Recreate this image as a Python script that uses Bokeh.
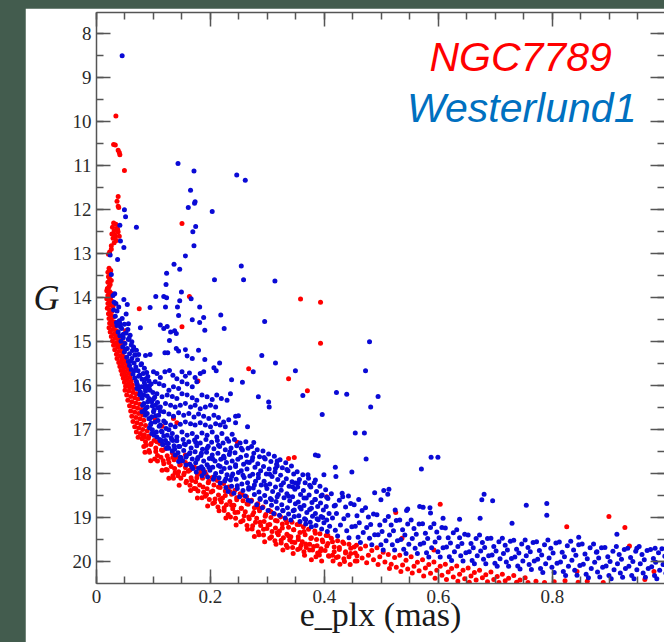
from bokeh.plotting import figure
from bokeh.models import Range1d, FixedTicker, LinearAxis, Label, CustomJSTickFormatter, Spacer
from bokeh.layouts import row, column
from bokeh.embed import file_html
from bokeh.resources import INLINE

# ---------------- data (x = e_plx [mas], G [mag]) ----------------
x_major = [0.0, 0.2, 0.4, 0.6, 0.8, 1.0]
x_minor = [round(0.05 * i, 2) for i in range(0, 21)]
g_major = list(range(8, 21))
g_minor = [7.5 + 0.5 * i for i in range(0, 27)]

# NGC7789 (red)
red_bright = [
    (0.034, 9.87), (0.030, 10.52), (0.033, 10.53), (0.038, 10.65), (0.040, 10.70), (0.041, 10.75),
    (0.049, 11.11), (0.038, 11.70), (0.036, 11.81), (0.038, 11.92), (0.039, 11.95),
    (0.030, 12.30), (0.034, 12.33), (0.028, 12.40), (0.036, 12.42), (0.037, 12.45), (0.031, 12.48),
    (0.038, 12.50), (0.027, 12.55), (0.033, 12.58), (0.040, 12.60), (0.032, 12.62), (0.029, 12.65),
    (0.035, 12.70), (0.031, 12.75), (0.026, 12.82), (0.026, 12.90), (0.023, 12.96), (0.021, 13.01),
]
red_upper = [
    (0.022, 13.33), (0.025, 13.38), (0.020, 13.42), (0.024, 13.47), (0.021, 13.52), (0.023, 13.57),
    (0.026, 13.61), (0.020, 13.65), (0.024, 13.70), (0.022, 13.75), (0.019, 13.79),
    (0.018, 13.84), (0.023, 13.86), (0.027, 13.90), (0.020, 13.94), (0.025, 13.98), (0.018, 14.02),
    (0.022, 14.05), (0.027, 14.08), (0.020, 14.13), (0.024, 14.17), (0.029, 14.20), (0.019, 14.24),
    (0.023, 14.28), (0.027, 14.31), (0.021, 14.36), (0.025, 14.40), (0.030, 14.43), (0.022, 14.47),
    (0.026, 14.51), (0.031, 14.55), (0.023, 14.58),
    (0.027, 14.62), (0.032, 14.65), (0.022, 14.68), (0.029, 14.72), (0.035, 14.75), (0.024, 14.78),
    (0.031, 14.82), (0.037, 14.85), (0.026, 14.88), (0.033, 14.92), (0.039, 14.95), (0.028, 14.98),
    (0.035, 15.02), (0.041, 15.05), (0.030, 15.08), (0.037, 15.12), (0.044, 15.15), (0.032, 15.18),
    (0.039, 15.22), (0.046, 15.25), (0.035, 15.28), (0.042, 15.32),
    (0.048, 15.35), (0.036, 15.38), (0.044, 15.41), (0.051, 15.44), (0.039, 15.47), (0.046, 15.50),
    (0.053, 15.53), (0.041, 15.56), (0.048, 15.59), (0.055, 15.62), (0.043, 15.65), (0.050, 15.68),
    (0.057, 15.71), (0.045, 15.74), (0.052, 15.77), (0.059, 15.80), (0.047, 15.83), (0.054, 15.86),
    (0.061, 15.89), (0.049, 15.92), (0.056, 15.95), (0.063, 15.98), (0.051, 16.01), (0.058, 16.04),
    (0.065, 16.07),
    (0.050, 16.10), (0.057, 16.12), (0.064, 16.15), (0.070, 16.18), (0.053, 16.21), (0.060, 16.24),
    (0.067, 16.27), (0.073, 16.30), (0.055, 16.33), (0.062, 16.36), (0.069, 16.39), (0.076, 16.42),
    (0.058, 16.45), (0.065, 16.48), (0.072, 16.51), (0.079, 16.54), (0.060, 16.57), (0.067, 16.60),
    (0.074, 16.63), (0.081, 16.66), (0.062, 16.69), (0.069, 16.72), (0.076, 16.75), (0.083, 16.78),
    (0.064, 16.81), (0.071, 16.84), (0.078, 16.87), (0.086, 16.90), (0.067, 16.93), (0.074, 16.96),
    (0.081, 16.99), (0.089, 17.02), (0.070, 17.05), (0.077, 17.08), (0.084, 17.11), (0.092, 17.14),
    (0.073, 17.17), (0.080, 17.20),
]
red_lower = [
    (0.081, 17.14), (0.086, 17.27), (0.083, 17.38), (0.091, 17.19), (0.095, 17.33), (0.092, 17.47),
    (0.101, 17.24), (0.104, 17.41), (0.107, 17.58), (0.102, 17.66),
    (0.111, 17.31), (0.116, 17.47), (0.113, 17.62), (0.118, 17.77),
    (0.121, 17.43), (0.124, 17.59), (0.127, 17.74), (0.122, 17.90),
    (0.133, 17.52), (0.136, 17.68), (0.131, 17.83), (0.138, 17.97), (0.134, 18.04),
    (0.142, 17.63), (0.147, 17.79), (0.144, 17.95), (0.148, 18.10),
    (0.151, 17.70), (0.156, 17.86), (0.153, 18.02), (0.158, 18.17),
    (0.163, 17.78), (0.161, 17.94), (0.166, 18.09), (0.164, 18.26),
    (0.172, 17.85), (0.177, 18.01), (0.174, 18.18), (0.171, 18.33), (0.178, 18.39),
    (0.183, 17.93), (0.186, 18.10), (0.181, 18.25), (0.188, 18.42),
    (0.192, 18.01), (0.197, 18.17), (0.194, 18.34), (0.191, 18.51), (0.198, 18.58),
    (0.203, 18.08), (0.206, 18.25), (0.201, 18.41), (0.208, 18.57), (0.204, 18.67),
    (0.212, 18.15), (0.217, 18.31), (0.214, 18.48), (0.219, 18.64), (0.213, 18.75),
    (0.223, 18.22), (0.226, 18.39), (0.221, 18.55), (0.228, 18.70), (0.224, 18.83),
    (0.232, 18.30), (0.237, 18.46), (0.234, 18.63), (0.239, 18.79), (0.231, 18.92),
    (0.243, 18.37), (0.246, 18.54), (0.241, 18.71), (0.248, 18.87), (0.244, 19.01),
    (0.252, 18.45), (0.257, 18.61), (0.254, 18.78), (0.259, 18.95), (0.253, 19.09),
    (0.263, 18.52), (0.266, 18.69), (0.261, 18.86), (0.268, 19.02), (0.264, 19.17),
    (0.272, 18.60), (0.277, 18.77), (0.274, 18.93), (0.279, 19.10), (0.273, 19.25),
    (0.283, 18.68), (0.286, 18.84), (0.281, 19.01), (0.288, 19.17), (0.284, 19.32),
    (0.292, 18.75), (0.297, 18.92), (0.294, 19.08), (0.299, 19.24), (0.293, 19.39),
    (0.303, 18.83), (0.306, 18.99), (0.301, 19.16), (0.308, 19.31), (0.304, 19.46),
    (0.312, 18.91), (0.317, 19.07), (0.314, 19.23), (0.319, 19.38), (0.313, 19.52),
    (0.323, 18.98), (0.326, 19.14), (0.321, 19.30), (0.328, 19.45), (0.324, 19.57),
    (0.332, 19.04), (0.337, 19.21), (0.334, 19.37), (0.339, 19.50), (0.333, 19.62),
    (0.343, 19.10), (0.346, 19.27), (0.341, 19.43), (0.348, 19.56), (0.344, 19.67),
    (0.352, 19.15), (0.357, 19.33), (0.354, 19.49), (0.359, 19.62), (0.353, 19.72),
    (0.363, 19.20), (0.366, 19.38), (0.361, 19.54), (0.368, 19.67), (0.364, 19.77),
    (0.372, 19.26), (0.377, 19.45), (0.374, 19.60), (0.379, 19.73),
    (0.383, 19.30), (0.386, 19.49), (0.381, 19.65), (0.388, 19.80),
    (0.392, 19.36), (0.397, 19.54), (0.394, 19.70), (0.391, 19.84),
    (0.403, 19.40), (0.406, 19.58), (0.401, 19.74), (0.408, 19.87),
    (0.412, 19.46), (0.417, 19.66), (0.414, 19.85), (0.423, 19.52), (0.426, 19.72), (0.421, 19.90),
    (0.432, 19.55), (0.437, 19.77), (0.434, 19.93), (0.443, 19.60), (0.446, 19.81),
    (0.452, 19.66), (0.457, 19.86), (0.454, 19.98), (0.463, 19.70), (0.466, 19.91),
    (0.472, 19.64), (0.477, 19.85), (0.474, 20.02), (0.483, 19.74), (0.486, 19.95),
    (0.492, 19.68), (0.497, 19.88), (0.494, 20.06), (0.503, 19.78), (0.506, 20.00),
    (0.512, 19.83), (0.517, 20.05), (0.514, 20.15), (0.523, 19.90), (0.526, 20.12),
    (0.532, 19.85), (0.537, 20.07), (0.534, 20.22), (0.543, 19.96), (0.546, 20.16),
    (0.552, 19.88), (0.557, 20.10), (0.554, 20.25), (0.563, 20.01), (0.566, 20.20),
    (0.572, 19.95), (0.577, 20.14), (0.574, 20.32), (0.583, 20.06), (0.586, 20.26),
    (0.592, 20.00), (0.597, 20.19), (0.594, 20.37), (0.603, 20.10), (0.606, 20.30),
    (0.612, 20.05), (0.617, 20.23), (0.614, 20.40), (0.623, 20.15), (0.626, 20.34),
    (0.632, 20.09), (0.637, 20.28), (0.634, 20.44), (0.643, 20.19), (0.646, 20.38),
    (0.652, 20.14), (0.657, 20.32), (0.654, 20.46), (0.663, 20.24), (0.666, 20.41),
    (0.672, 20.19), (0.677, 20.36), (0.683, 20.29), (0.686, 20.45), (0.692, 20.23), (0.697, 20.40),
    (0.703, 20.33), (0.706, 20.47), (0.712, 20.28), (0.717, 20.43), (0.723, 20.37),
    (0.732, 20.31), (0.737, 20.46), (0.743, 20.41), (0.752, 20.36), (0.757, 20.47),
    (0.771, 20.44), (0.786, 20.47), (0.803, 20.45), (0.822, 20.43), (0.845, 20.46), (0.861, 20.44),
    (0.889, 20.47), (0.962, 20.40),
]
red_lower_fill = [
    (0.084, 17.17), (0.087, 17.35), (0.085, 17.51), (0.096, 17.31), (0.093, 17.51), (0.095, 17.70),
    (0.106, 17.27), (0.104, 17.49), (0.107, 17.71), (0.114, 17.46), (0.117, 17.70), (0.115, 17.92),
    (0.126, 17.66), (0.124, 17.91), (0.127, 18.10), (0.134, 17.62), (0.137, 17.88), (0.135, 18.10),
    (0.146, 17.80), (0.143, 18.04), (0.145, 18.26), (0.156, 17.74), (0.154, 17.98), (0.157, 18.20),
    (0.164, 17.91), (0.167, 18.15), (0.165, 18.38), (0.176, 18.09), (0.174, 18.34), (0.177, 18.55),
    (0.184, 18.01), (0.187, 18.30), (0.185, 18.54), (0.196, 18.20), (0.193, 18.47), (0.195, 18.73),
    (0.206, 18.11), (0.204, 18.39), (0.207, 18.65), (0.214, 18.30), (0.217, 18.58), (0.215, 18.84),
    (0.226, 18.49), (0.224, 18.77), (0.227, 19.00), (0.234, 18.40), (0.237, 18.71), (0.235, 18.98),
    (0.246, 18.59), (0.243, 18.88), (0.245, 19.16), (0.256, 18.48), (0.254, 18.78), (0.257, 19.06),
    (0.264, 18.68), (0.267, 18.98), (0.265, 19.26), (0.276, 18.88), (0.274, 19.18), (0.277, 19.42),
    (0.284, 18.77), (0.287, 19.10), (0.285, 19.38), (0.296, 18.96), (0.293, 19.26), (0.295, 19.54),
    (0.306, 18.86), (0.304, 19.15), (0.307, 19.43), (0.314, 19.06), (0.317, 19.34), (0.315, 19.60),
    (0.326, 19.23), (0.324, 19.51), (0.327, 19.73), (0.334, 19.11), (0.337, 19.41), (0.335, 19.67),
    (0.346, 19.27), (0.343, 19.55), (0.345, 19.81), (0.356, 19.15), (0.354, 19.43), (0.357, 19.69),
    (0.364, 19.31), (0.367, 19.59), (0.365, 19.85), (0.376, 19.47), (0.374, 19.73), (0.377, 19.95),
    (0.384, 19.35), (0.387, 19.63), (0.385, 19.88), (0.396, 19.50), (0.393, 19.75), (0.395, 19.98),
    (0.406, 19.40), (0.404, 19.64), (0.407, 19.86), (0.414, 19.54), (0.417, 19.77), (0.415, 19.98),
    (0.426, 19.67), (0.424, 19.88), (0.427, 20.05), (0.434, 19.58), (0.437, 19.80), (0.435, 19.99),
    (0.446, 19.69), (0.443, 19.88), (0.445, 20.06), (0.456, 19.62), (0.454, 19.80), (0.457, 19.98),
]
red_outliers = [
    (0.150, 12.31), (0.163, 13.97), (0.358, 14.03), (0.393, 14.10), (0.075, 14.25), (0.051, 14.75),
    (0.150, 14.66), (0.048, 15.02), (0.393, 15.03), (0.267, 15.61), (0.337, 15.84), (0.178, 15.89),
    (0.370, 16.11), (0.103, 16.77), (0.135, 16.74), (0.141, 16.84), (0.115, 16.92),
    (0.247, 17.28), (0.156, 17.57), (0.337, 17.65), (0.347, 17.63), (0.190, 17.95), (0.404, 18.52),
    (0.603, 18.69), (0.525, 18.88), (0.536, 19.46), (0.592, 19.73), (0.825, 19.20), (0.899, 18.97),
    (0.927, 19.22), (0.935, 19.64), (0.843, 20.22), (0.978, 20.22),
]

# Westerlund1 (blue)
blue_bright = [
    (0.045, 8.50), (0.143, 10.95), (0.171, 11.12), (0.246, 11.21), (0.261, 11.33), (0.165, 11.56),
    (0.173, 11.82), (0.172, 11.85), (0.161, 11.95), (0.049, 12.00), (0.203, 12.04), (0.051, 12.16),
    (0.041, 12.35), (0.070, 12.40), (0.174, 12.38), (0.169, 12.50), (0.042, 12.71), (0.048, 12.86),
    (0.171, 12.82), (0.024, 13.03), (0.156, 13.05), (0.037, 13.13), (0.136, 13.24), (0.146, 13.35),
    (0.254, 13.28), (0.123, 13.44), (0.026, 13.47), (0.207, 13.59), (0.258, 13.59), (0.313, 13.62),
    (0.122, 13.70),
]
blue_scatter = [
    (0.032, 13.91), (0.104, 13.97), (0.118, 13.97), (0.123, 14.00), (0.149, 13.87), (0.166, 14.02),
    (0.146, 14.07), (0.048, 14.04), (0.054, 14.15), (0.039, 14.21), (0.034, 14.13), (0.094, 14.22),
    (0.121, 14.21), (0.142, 14.21), (0.144, 14.40), (0.181, 14.21), (0.218, 14.39), (0.188, 14.45),
    (0.181, 14.56), (0.168, 14.50), (0.295, 14.54), (0.052, 14.37), (0.045, 14.47), (0.056, 14.59),
    (0.042, 14.66), (0.059, 14.85), (0.077, 14.68), (0.112, 14.62), (0.118, 14.70), (0.124, 14.65),
    (0.130, 14.78), (0.137, 14.75), (0.140, 14.81), (0.190, 14.74), (0.224, 14.70), (0.128, 14.97),
    (0.070, 15.19), (0.086, 15.31), (0.094, 15.29), (0.120, 15.25), (0.125, 15.25), (0.140, 15.15),
    (0.144, 15.21), (0.156, 15.18), (0.159, 15.32), (0.179, 15.19), (0.190, 15.40), (0.168, 15.38),
    (0.216, 15.48), (0.206, 15.59), (0.210, 15.66), (0.290, 15.31), (0.314, 15.48), (0.479, 15.00),
    (0.472, 15.66), (0.349, 15.66), (0.275, 15.68), (0.256, 15.92), (0.237, 15.86), (0.362, 16.22),
    (0.421, 16.15), (0.439, 16.19), (0.494, 16.24), (0.481, 16.48), (0.284, 16.25), (0.302, 16.37),
    (0.303, 16.48), (0.396, 16.65), (0.265, 16.93), (0.454, 17.07), (0.470, 17.07), (0.249, 16.68),
    (0.244, 16.69),
]
blue_cloud = [
    (0.100, 15.68), (0.106, 15.72), (0.112, 15.81), (0.120, 15.68), (0.128, 15.65), (0.134, 15.76),
    (0.141, 15.84), (0.150, 15.68), (0.156, 15.78), (0.163, 15.71), (0.173, 15.81), (0.182, 15.72),
    (0.188, 15.68), (0.176, 15.91), (0.168, 16.02), (0.159, 15.96), (0.150, 15.91), (0.144, 16.06),
    (0.135, 16.02), (0.127, 16.10), (0.118, 15.99), (0.110, 15.95), (0.103, 15.91), (0.092, 15.89),
    (0.086, 15.99), (0.094, 16.10), (0.106, 16.18), (0.115, 16.25), (0.124, 16.21), (0.133, 16.24),
    (0.141, 16.29), (0.150, 16.18), (0.159, 16.21), (0.168, 16.27), (0.176, 16.33), (0.185, 16.21),
    (0.194, 16.25), (0.203, 16.31), (0.211, 16.21), (0.219, 16.29), (0.229, 16.33), (0.235, 16.18),
    (0.209, 16.48), (0.200, 16.44), (0.191, 16.48), (0.182, 16.52), (0.173, 16.44), (0.165, 16.48),
    (0.156, 16.40), (0.147, 16.44), (0.138, 16.48), (0.130, 16.44), (0.121, 16.40), (0.112, 16.48),
    (0.103, 16.44), (0.097, 16.36), (0.092, 16.29), (0.083, 16.21), (0.077, 16.14), (0.071, 16.06),
    (0.089, 16.48), (0.100, 16.59), (0.109, 16.67), (0.118, 16.59), (0.127, 16.64), (0.135, 16.69),
    (0.144, 16.61), (0.153, 16.67), (0.162, 16.63), (0.171, 16.71), (0.179, 16.64), (0.188, 16.69),
    (0.197, 16.74), (0.206, 16.67), (0.214, 16.72), (0.223, 16.82), (0.232, 16.77), (0.244, 16.84),
    (0.226, 16.93), (0.217, 16.89), (0.209, 16.86), (0.200, 16.93), (0.191, 16.89), (0.182, 16.84),
    (0.173, 16.89), (0.165, 16.86), (0.156, 16.82), (0.147, 16.87), (0.138, 16.93), (0.130, 16.89),
    (0.121, 16.84), (0.112, 16.89), (0.103, 16.82), (0.094, 16.74), (0.086, 16.67), (0.080, 16.59),
    (0.115, 17.05), (0.124, 17.12), (0.133, 17.08), (0.141, 17.16), (0.150, 17.05), (0.159, 17.12),
    (0.168, 17.08), (0.176, 17.16), (0.185, 17.07), (0.194, 17.12), (0.203, 17.05), (0.211, 17.16),
    (0.220, 17.08), (0.229, 17.20), (0.238, 17.10), (0.106, 17.16), (0.097, 17.08),
]
blue_adjacent = [
    (0.029, 13.95), (0.031, 14.10), (0.030, 14.28), (0.036, 14.30), (0.033, 14.42), (0.040, 14.52),
    (0.035, 14.56),
    (0.036, 14.63), (0.044, 14.70), (0.038, 14.78), (0.052, 14.80), (0.041, 14.86), (0.047, 14.91),
    (0.056, 14.95), (0.043, 14.99), (0.050, 15.04), (0.061, 15.07), (0.046, 15.11), (0.054, 15.15),
    (0.063, 15.20), (0.049, 15.23), (0.058, 15.27), (0.067, 15.30),
    (0.053, 15.35), (0.062, 15.38), (0.072, 15.41), (0.056, 15.45), (0.066, 15.48), (0.079, 15.50),
    (0.058, 15.54), (0.069, 15.57), (0.084, 15.60), (0.061, 15.63), (0.073, 15.66), (0.088, 15.70),
    (0.064, 15.73), (0.076, 15.76), (0.090, 15.79), (0.067, 15.82), (0.080, 15.85), (0.070, 15.90),
    (0.084, 15.93), (0.096, 15.96), (0.072, 15.99),
    (0.079, 16.02), (0.091, 16.05), (0.074, 16.08), (0.086, 16.12), (0.099, 16.15), (0.077, 16.17),
    (0.089, 16.23), (0.102, 16.26), (0.080, 16.28), (0.095, 16.33), (0.107, 16.38), (0.083, 16.40),
    (0.098, 16.46), (0.086, 16.52), (0.101, 16.55), (0.112, 16.58),
    (0.089, 16.63), (0.104, 16.68), (0.092, 16.75), (0.108, 16.79), (0.118, 16.80), (0.095, 16.88),
    (0.110, 16.92), (0.122, 16.97), (0.098, 17.00), (0.114, 17.03), (0.127, 17.00), (0.101, 17.12),
    (0.118, 17.14), (0.131, 17.18),
    (0.041, 14.58), (0.047, 14.83), (0.055, 14.72), (0.062, 15.00), (0.051, 15.17), (0.065, 15.12),
    (0.060, 15.44), (0.074, 15.29), (0.078, 15.52), (0.066, 15.66), (0.082, 15.72), (0.071, 15.95),
    (0.087, 15.84), (0.093, 16.00), (0.076, 16.20), (0.090, 16.36), (0.084, 16.57), (0.097, 16.70),
    (0.093, 16.95), (0.105, 17.05), (0.108, 16.50), (0.100, 16.30), (0.096, 16.85), (0.111, 17.22),
    (0.085, 16.05), (0.068, 15.30), (0.057, 14.92), (0.049, 14.60), (0.074, 15.78), (0.081, 16.44),
]
blue_band = [
    (0.112, 17.25), (0.116, 17.33), (0.121, 17.24), (0.126, 17.31), (0.123, 17.42),
    (0.132, 17.22), (0.136, 17.36), (0.133, 17.48), (0.138, 17.57),
    (0.141, 17.25), (0.146, 17.38), (0.143, 17.52), (0.148, 17.63), (0.144, 17.72),
    (0.152, 17.22), (0.156, 17.34), (0.153, 17.47), (0.158, 17.59), (0.151, 17.70), (0.157, 17.80),
    (0.162, 17.27), (0.166, 17.41), (0.163, 17.54), (0.168, 17.66), (0.164, 17.78), (0.169, 17.88),
    (0.172, 17.23), (0.176, 17.36), (0.173, 17.50), (0.178, 17.63), (0.174, 17.75), (0.179, 17.87), (0.175, 17.96),
    (0.182, 17.30), (0.186, 17.44), (0.183, 17.58), (0.188, 17.71), (0.184, 17.84), (0.189, 17.97), (0.185, 18.04),
    (0.192, 17.22), (0.196, 17.37), (0.193, 17.51), (0.198, 17.65), (0.194, 17.79), (0.199, 17.92), (0.195, 18.07),
    (0.202, 17.28), (0.206, 17.43), (0.203, 17.57), (0.208, 17.71), (0.204, 17.85), (0.209, 17.99), (0.205, 18.12),
    (0.212, 17.24), (0.216, 17.38), (0.213, 17.53), (0.218, 17.67), (0.214, 17.81), (0.219, 17.95), (0.215, 18.09), (0.217, 18.21),
    (0.222, 17.30), (0.226, 17.45), (0.223, 17.60), (0.228, 17.74), (0.224, 17.88), (0.229, 18.02), (0.225, 18.16), (0.227, 18.31),
    (0.232, 17.26), (0.236, 17.41), (0.233, 17.56), (0.238, 17.71), (0.234, 17.86), (0.239, 18.00), (0.235, 18.14), (0.237, 18.28), (0.231, 18.40),
    (0.242, 17.22), (0.246, 17.36), (0.243, 17.52), (0.248, 17.67), (0.244, 17.83), (0.249, 17.97), (0.245, 18.12), (0.247, 18.27), (0.241, 18.44),
    (0.252, 17.30), (0.256, 17.46), (0.253, 17.62), (0.258, 17.78), (0.254, 17.93), (0.259, 18.08), (0.255, 18.23), (0.257, 18.38), (0.251, 18.52),
    (0.262, 17.27), (0.266, 17.42), (0.263, 17.58), (0.268, 17.74), (0.264, 17.89), (0.269, 18.05), (0.265, 18.20), (0.267, 18.35), (0.261, 18.50), (0.266, 18.60),
    (0.272, 17.38), (0.276, 17.53), (0.273, 17.69), (0.278, 17.85), (0.274, 18.01), (0.279, 18.17), (0.275, 18.32), (0.277, 18.47), (0.271, 18.62),
    (0.282, 17.45), (0.286, 17.61), (0.283, 17.77), (0.288, 17.93), (0.284, 18.09), (0.289, 18.25), (0.285, 18.41), (0.287, 18.56), (0.281, 18.70),
    (0.292, 17.48), (0.296, 17.66), (0.293, 17.83), (0.298, 18.00), (0.294, 18.17), (0.299, 18.33), (0.295, 18.49), (0.297, 18.64), (0.291, 18.77),
    (0.302, 17.55), (0.306, 17.72), (0.303, 17.89), (0.308, 18.06), (0.304, 18.23), (0.309, 18.40), (0.305, 18.56), (0.307, 18.71), (0.301, 18.83),
    (0.312, 17.60), (0.316, 17.78), (0.313, 17.96), (0.318, 18.13), (0.314, 18.30), (0.319, 18.47), (0.315, 18.63), (0.317, 18.78), (0.311, 18.90),
    (0.322, 17.68), (0.326, 17.86), (0.323, 18.03), (0.328, 18.20), (0.324, 18.37), (0.329, 18.54), (0.325, 18.70), (0.327, 18.84), (0.321, 18.94),
    (0.332, 17.75), (0.336, 17.93), (0.333, 18.11), (0.338, 18.28), (0.334, 18.45), (0.339, 18.61), (0.335, 18.77), (0.337, 18.91), (0.331, 19.00),
    (0.342, 17.82), (0.346, 18.00), (0.343, 18.18), (0.348, 18.35), (0.344, 18.52), (0.349, 18.68), (0.345, 18.84), (0.347, 18.97), (0.341, 19.05),
    (0.352, 17.95), (0.356, 18.13), (0.353, 18.30), (0.358, 18.47), (0.354, 18.64), (0.359, 18.80), (0.355, 18.95), (0.357, 19.08),
    (0.362, 18.02), (0.366, 18.20), (0.363, 18.38), (0.368, 18.55), (0.364, 18.72), (0.369, 18.88), (0.365, 19.02), (0.367, 19.14),
    (0.372, 18.10), (0.376, 18.30), (0.373, 18.48), (0.378, 18.65), (0.374, 18.81), (0.379, 18.96), (0.375, 19.10), (0.377, 19.20),
    (0.382, 18.20), (0.386, 18.40), (0.383, 18.58), (0.388, 18.74), (0.384, 18.90), (0.389, 19.04), (0.385, 19.17),
    (0.392, 18.28), (0.396, 18.48), (0.393, 18.66), (0.398, 18.82), (0.394, 18.97), (0.399, 19.11), (0.395, 19.25),
    (0.402, 18.36), (0.406, 18.56), (0.403, 18.74), (0.408, 18.90), (0.404, 19.05), (0.409, 19.19), (0.405, 19.31),
]
blue_band_fill = [
    (0.114, 17.24), (0.117, 17.33), (0.124, 17.31), (0.127, 17.42), (0.134, 17.24), (0.137, 17.44),
    (0.144, 17.38), (0.147, 17.62), (0.154, 17.32), (0.157, 17.62), (0.164, 17.52), (0.167, 17.83),
    (0.174, 17.28), (0.177, 17.67), (0.184, 17.53), (0.187, 17.89), (0.194, 17.42), (0.197, 17.85),
    (0.204, 17.66), (0.207, 18.06), (0.214, 17.35), (0.217, 17.83), (0.224, 17.64), (0.227, 18.11),
    (0.234, 17.50), (0.237, 18.06), (0.244, 17.79), (0.247, 18.33), (0.254, 17.42), (0.257, 18.03),
    (0.264, 17.73), (0.267, 18.31), (0.274, 17.63), (0.277, 18.25), (0.284, 18.01), (0.287, 18.58),
    (0.294, 17.63), (0.297, 18.26), (0.304, 18.01), (0.307, 18.59), (0.314, 17.88), (0.317, 18.52),
    (0.324, 18.26), (0.327, 18.83), (0.334, 17.90), (0.337, 18.51), (0.344, 18.29), (0.347, 18.82),
    (0.354, 18.20), (0.357, 18.76), (0.364, 18.55), (0.367, 19.04), (0.374, 18.26), (0.377, 18.78),
    (0.384, 18.58), (0.387, 19.02), (0.394, 18.50), (0.397, 18.99),
]
blue_tail = [
    (0.412, 18.45), (0.417, 18.73), (0.414, 19.00), (0.419, 19.28),
    (0.426, 18.60), (0.421, 18.90), (0.428, 19.16), (0.423, 19.41),
    (0.432, 18.52), (0.437, 18.75), (0.434, 19.02), (0.439, 19.29),
    (0.446, 18.67), (0.441, 18.94), (0.448, 19.20), (0.443, 19.45),
    (0.452, 18.70), (0.457, 18.95), (0.454, 19.19), (0.459, 19.44),
    (0.466, 18.83), (0.461, 19.11), (0.468, 19.33), (0.463, 19.56),
    (0.472, 18.77), (0.477, 18.98), (0.474, 19.22), (0.479, 19.46),
    (0.486, 18.91), (0.481, 19.15), (0.488, 19.38), (0.483, 19.61),
    (0.492, 18.93), (0.497, 19.16), (0.494, 19.38), (0.499, 19.61),
    (0.506, 19.06), (0.501, 19.31), (0.508, 19.52), (0.503, 19.73),
    (0.512, 18.97), (0.517, 19.16), (0.514, 19.39), (0.519, 19.61),
    (0.526, 19.06), (0.521, 19.29), (0.528, 19.52), (0.523, 19.73),
    (0.532, 19.05), (0.537, 19.27), (0.534, 19.49), (0.539, 19.71),
    (0.546, 19.14), (0.541, 19.39), (0.548, 19.60), (0.543, 19.81),
    (0.552, 19.05), (0.557, 19.24), (0.554, 19.47), (0.559, 19.69),
    (0.566, 19.14), (0.561, 19.37), (0.568, 19.60), (0.563, 19.81),
    (0.572, 19.13), (0.577, 19.35), (0.574, 19.57), (0.579, 19.79),
    (0.586, 19.22), (0.581, 19.47), (0.588, 19.68), (0.583, 19.89),
    (0.592, 19.13), (0.597, 19.32), (0.594, 19.55), (0.599, 19.77),
    (0.606, 19.22), (0.601, 19.45), (0.608, 19.68), (0.603, 19.89),
    (0.612, 19.23), (0.617, 19.45), (0.614, 19.66), (0.619, 19.88),
    (0.626, 19.34), (0.621, 19.57), (0.628, 19.77), (0.623, 19.97),
    (0.632, 19.27), (0.637, 19.45), (0.634, 19.65), (0.639, 19.86),
    (0.646, 19.37), (0.641, 19.58), (0.648, 19.79), (0.643, 19.98),
    (0.652, 19.39), (0.657, 19.58), (0.654, 19.77), (0.659, 19.97),
    (0.666, 19.47), (0.661, 19.68), (0.668, 19.86), (0.663, 20.04),
    (0.672, 19.39), (0.677, 19.56), (0.674, 19.75), (0.679, 19.94),
    (0.686, 19.47), (0.681, 19.67), (0.688, 19.86), (0.683, 20.04),
    (0.692, 19.46), (0.697, 19.65), (0.694, 19.84), (0.699, 20.03),
    (0.706, 19.54), (0.701, 19.75), (0.708, 19.93), (0.703, 20.10),
    (0.712, 19.46), (0.717, 19.62), (0.714, 19.81), (0.719, 20.00),
    (0.726, 19.53), (0.721, 19.73), (0.728, 19.92), (0.723, 20.10),
    (0.732, 19.51), (0.737, 19.71), (0.734, 19.89), (0.739, 20.09),
    (0.746, 19.59), (0.741, 19.80), (0.748, 19.98), (0.743, 20.16),
    (0.752, 19.50), (0.757, 19.67), (0.754, 19.86), (0.759, 20.06),
    (0.766, 19.56), (0.761, 19.77), (0.768, 19.98), (0.763, 20.17),
    (0.772, 19.54), (0.777, 19.74), (0.774, 19.94), (0.779, 20.15),
    (0.786, 19.61), (0.781, 19.84), (0.788, 20.04), (0.783, 20.24),
    (0.792, 19.50), (0.797, 19.69), (0.794, 19.91), (0.799, 20.12),
    (0.806, 19.57), (0.801, 19.80), (0.808, 20.03), (0.803, 20.24),
    (0.812, 19.55), (0.817, 19.78), (0.814, 20.00), (0.819, 20.22),
    (0.826, 19.63), (0.821, 19.88), (0.828, 20.10), (0.823, 20.31),
    (0.832, 19.53), (0.837, 19.73), (0.834, 19.96), (0.839, 20.19),
    (0.846, 19.61), (0.841, 19.85), (0.848, 20.08), (0.843, 20.30),
    (0.852, 19.59), (0.857, 19.82), (0.854, 20.05), (0.859, 20.28),
    (0.866, 19.68), (0.861, 19.93), (0.868, 20.15), (0.863, 20.36),
    (0.872, 19.59), (0.877, 19.78), (0.874, 20.01), (0.879, 20.23),
    (0.886, 19.68), (0.881, 19.91), (0.888, 20.12), (0.883, 20.34),
    (0.892, 19.67), (0.897, 19.88), (0.894, 20.09), (0.899, 20.31),
    (0.906, 19.76), (0.901, 19.99), (0.908, 20.18), (0.903, 20.38),
    (0.912, 19.65), (0.917, 19.83), (0.914, 20.04), (0.919, 20.25),
    (0.926, 19.72), (0.921, 19.94), (0.928, 20.15), (0.923, 20.35),
    (0.932, 19.69), (0.937, 19.90), (0.934, 20.10), (0.939, 20.31),
    (0.946, 19.76), (0.941, 19.99), (0.948, 20.18), (0.943, 20.38),
    (0.952, 19.65), (0.957, 19.83), (0.954, 20.04), (0.959, 20.25),
    (0.966, 19.74), (0.961, 19.95), (0.968, 20.15), (0.963, 20.35),
    (0.972, 19.72), (0.977, 19.92), (0.974, 20.11), (0.979, 20.31),
    (0.986, 19.79), (0.981, 20.01), (0.988, 20.19), (0.983, 20.38),
    (0.992, 19.70), (0.997, 19.87), (0.994, 20.06), (0.999, 20.26),
]
blue_outliers = [
    (0.276, 17.29), (0.317, 17.71), (0.317, 17.82), (0.384, 17.57), (0.389, 17.59), (0.473, 17.66),
    (0.448, 17.96), (0.419, 17.85), (0.399, 18.02), (0.420, 18.06), (0.371, 18.02), (0.349, 18.21),
    (0.384, 18.14), (0.431, 18.44), (0.442, 18.50), (0.488, 18.43), (0.404, 18.53), (0.460, 18.58),
    (0.419, 18.71), (0.570, 17.89), (0.587, 17.62), (0.599, 17.62), (0.504, 18.38), (0.513, 18.35),
    (0.511, 18.46), (0.499, 18.59), (0.524, 18.82), (0.544, 18.83), (0.546, 18.80), (0.567, 18.74),
    (0.573, 18.76), (0.585, 18.77), (0.586, 18.89), (0.608, 19.01), (0.637, 19.03), (0.676, 18.59),
    (0.680, 18.46), (0.695, 18.61), (0.673, 19.01), (0.754, 18.71), (0.790, 18.67), (0.790, 18.94),
    (0.729, 19.12), (0.913, 19.37), (0.980, 19.69), (0.846, 19.44), (0.878, 19.77), (0.948, 19.69),
]

red_pts = red_bright + red_upper + red_lower + red_lower_fill + red_outliers
blue_pts = (blue_bright + blue_scatter + blue_cloud + blue_adjacent + blue_band
            + blue_band_fill + blue_tail + blue_outliers)

# ---------------- styling ----------------
DARK = "#435c4e"
RED = "#ff0000"
BLUE = "#0a0ad6"
AXIS = "#555555"
SERIF = "Liberation Serif"

p = figure(width=639, height=634,
           x_range=Range1d(0, 0.9965), y_range=Range1d(20.49, 7.52),
           output_backend="svg", toolbar_location=None,
           min_border_left=71, min_border_right=0, min_border_top=4, min_border_bottom=59,
           background_fill_color="white", border_fill_color="white",
           outline_line_color=None)
p.xgrid.visible = False
p.ygrid.visible = False

p.scatter([q[0] for q in red_pts], [q[1] for q in red_pts], size=5, marker="circle",
          fill_color=RED, line_color=None)
p.scatter([q[0] for q in blue_pts], [q[1] for q in blue_pts], size=5, marker="circle",
          fill_color=BLUE, line_color=None)


def style_axis(ax, labels=True):
    ax.axis_line_color = AXIS
    ax.axis_line_width = 1.5
    ax.major_tick_line_color = AXIS
    ax.major_tick_line_width = 1.5
    ax.minor_tick_line_color = AXIS
    ax.minor_tick_line_width = 1.5
    ax.major_tick_in = 14
    ax.major_tick_out = 0
    ax.minor_tick_in = 7
    ax.minor_tick_out = 0
    if labels:
        ax.major_label_text_font = SERIF
        ax.major_label_text_font_size = "19px"
        ax.major_label_text_color = "#2a2a2a"
        ax.major_label_standoff = 5
    else:
        ax.major_label_text_font_size = "0px"
        ax.major_label_standoff = 0


xb = p.xaxis[0]
xb.ticker = FixedTicker(ticks=x_major, minor_ticks=x_minor)
xb.formatter = CustomJSTickFormatter(code="return tick == 0 ? '0' : tick.toFixed(1);")
style_axis(xb)
xb.major_label_standoff = 6
xb.axis_label = "e_plx (mas)"
xb.axis_label_text_font = SERIF
xb.axis_label_text_font_style = "normal"
xb.axis_label_text_font_size = "34px"
xb.axis_label_text_color = "#1a1a1a"
xb.axis_label_standoff = -10

yl = p.yaxis[0]
yl.ticker = FixedTicker(ticks=g_major, minor_ticks=g_minor)
style_axis(yl)
yl.axis_label = "G"
yl.axis_label_orientation = "horizontal"
yl.axis_label_text_font = SERIF
yl.axis_label_text_font_style = "italic"
yl.axis_label_text_font_size = "36px"
yl.axis_label_text_color = "#1a1a1a"
yl.axis_label_standoff = 10

xt = LinearAxis(ticker=FixedTicker(ticks=x_major, minor_ticks=x_minor))
style_axis(xt, labels=False)
p.add_layout(xt, "above")

yr = LinearAxis(ticker=FixedTicker(ticks=g_major, minor_ticks=g_minor))
style_axis(yr, labels=False)
yr.axis_line_color = None
p.add_layout(yr, "right")

p.add_layout(Label(x=0.744, y=8.52, text="NGC7789", text_align="center",
                   text_baseline="alphabetic",
                   text_font="Liberation Sans", text_font_style="italic",
                   text_font_size="41px", text_color="#ff0000"))
p.add_layout(Label(x=0.746, y=9.68, text="Westerlund1", text_align="center",
                   text_baseline="alphabetic",
                   text_font="Liberation Sans", text_font_style="italic",
                   text_font_size="41px", text_color="#0070c0"))

layout = row(Spacer(width=25, height=642),
             column(Spacer(width=639, height=8), p),
             styles={"background-color": DARK})

open("out.html", "w").write(file_html(layout, INLINE))
